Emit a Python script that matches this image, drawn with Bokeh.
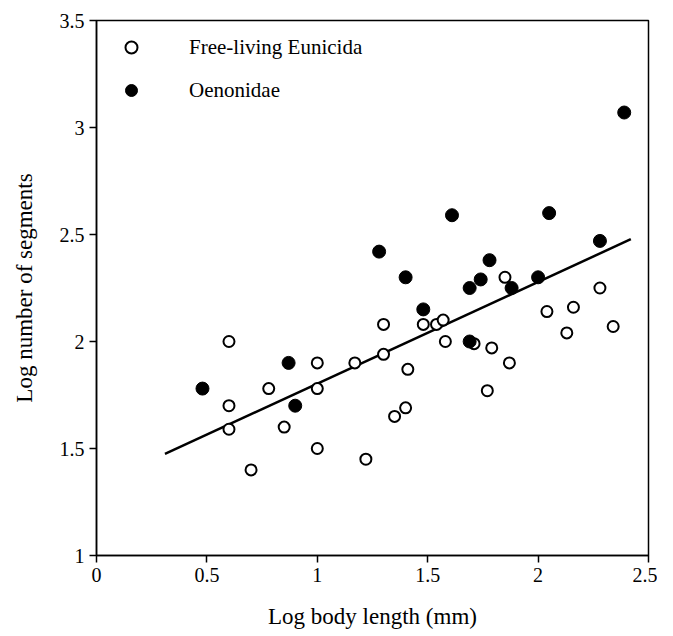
from bokeh.plotting import figure
from bokeh.models import Range1d, FixedTicker, Legend, LegendItem
from bokeh.embed import file_html
from bokeh.resources import INLINE

# Free-living Eunicida (open circles)
free_x = [0.60, 0.60, 0.60, 0.70, 0.78, 0.85, 1.00, 1.00, 1.00, 1.17,
          1.22, 1.30, 1.30, 1.35, 1.40, 1.41, 1.48, 1.54, 1.57, 1.58,
          1.71, 1.79, 1.77, 1.85, 1.87, 2.04, 2.13, 2.16, 2.28, 2.34]
free_y = [2.00, 1.70, 1.59, 1.40, 1.78, 1.60, 1.90, 1.78, 1.50, 1.90,
          1.45, 2.08, 1.94, 1.65, 1.69, 1.87, 2.08, 2.08, 2.10, 2.00,
          1.99, 1.97, 1.77, 2.30, 1.90, 2.14, 2.04, 2.16, 2.25, 2.07]

# Oenonidae (filled circles)
oen_x = [0.48, 0.87, 0.90, 1.28, 1.40, 1.48, 1.61, 1.69, 1.74, 1.78,
         1.69, 1.88, 2.00, 2.05, 2.28, 2.39]
oen_y = [1.78, 1.90, 1.70, 2.42, 2.30, 2.15, 2.59, 2.25, 2.29, 2.38,
         2.00, 2.25, 2.30, 2.60, 2.47, 3.07]

# Regression line end points
fit_x = [0.31, 2.42]
fit_y = [1.475, 2.478]

x_ticks = [0, 0.5, 1, 1.5, 2, 2.5]
x_tick_labels = ["0", "0.5", "1", "1.5", "2", "2.5"]
y_ticks = [1, 1.5, 2, 2.5, 3, 3.5]
y_tick_labels = ["1", "1.5", "2", "2.5", "3", "3.5"]

FONT = "Liberation Serif"

p = figure(frame_width=552, frame_height=535,
           x_range=Range1d(0, 2.5), y_range=Range1d(1, 3.5),
           output_backend="svg", toolbar_location=None,
           min_border_left=96, min_border_right=9,
           min_border_top=20, min_border_bottom=81)

p.background_fill_color = "white"
p.border_fill_color = "white"
p.outline_line_color = "black"
p.outline_line_width = 1.5
p.xgrid.visible = False
p.ygrid.visible = False

for ax, ticks, labels in ((p.xaxis, x_ticks, x_tick_labels), (p.yaxis, y_ticks, y_tick_labels)):
    ax.ticker = FixedTicker(ticks=ticks)
    ax.major_label_overrides = {t: l for t, l in zip(ticks, labels)}
    ax.minor_tick_line_color = None
    ax.major_tick_in = 0
    ax.major_tick_out = 7
    ax.major_tick_line_width = 1.5
    ax.axis_line_width = 1.5
    ax.axis_line_color = "black"
    ax.major_tick_line_color = "black"
    ax.major_label_text_font = FONT
    ax.major_label_text_font_size = "20px"
    ax.major_label_text_color = "black"
    ax.axis_label_text_font = FONT
    ax.axis_label_text_font_size = "23px"
    ax.axis_label_text_font_style = "normal"
    ax.axis_label_text_color = "black"

p.xaxis.axis_label = "Log body length (mm)"
p.yaxis.axis_label = "Log number of segments"
p.xaxis.major_label_standoff = 5
p.xaxis.axis_label_standoff = 19
p.yaxis.major_label_standoff = 5
p.yaxis.axis_label_standoff = 20

p.line(fit_x, fit_y, line_color="black", line_width=2.5)

r_free = p.scatter(free_x, free_y, marker="circle", size=11,
                   fill_color="white", line_color="black", line_width=2)
r_oen = p.scatter(oen_x, oen_y, marker="circle", size=13,
                  fill_color="black", line_color="black", line_width=1)

legend = Legend(items=[LegendItem(label="Free-living Eunicida", renderers=[r_free]),
                       LegendItem(label="Oenonidae", renderers=[r_oen])],
                location="top_left")
legend.margin = 12
legend.padding = 0
legend.glyph_width = 46
legend.glyph_height = 30
legend.label_height = 30
legend.spacing = 13
legend.label_standoff = 35
legend.border_line_alpha = 0
legend.background_fill_alpha = 0
legend.label_text_font = FONT
legend.label_text_font_size = "21px"
legend.label_text_color = "black"
p.add_layout(legend, "center")

open("out.html", "w").write(file_html(p, INLINE))
